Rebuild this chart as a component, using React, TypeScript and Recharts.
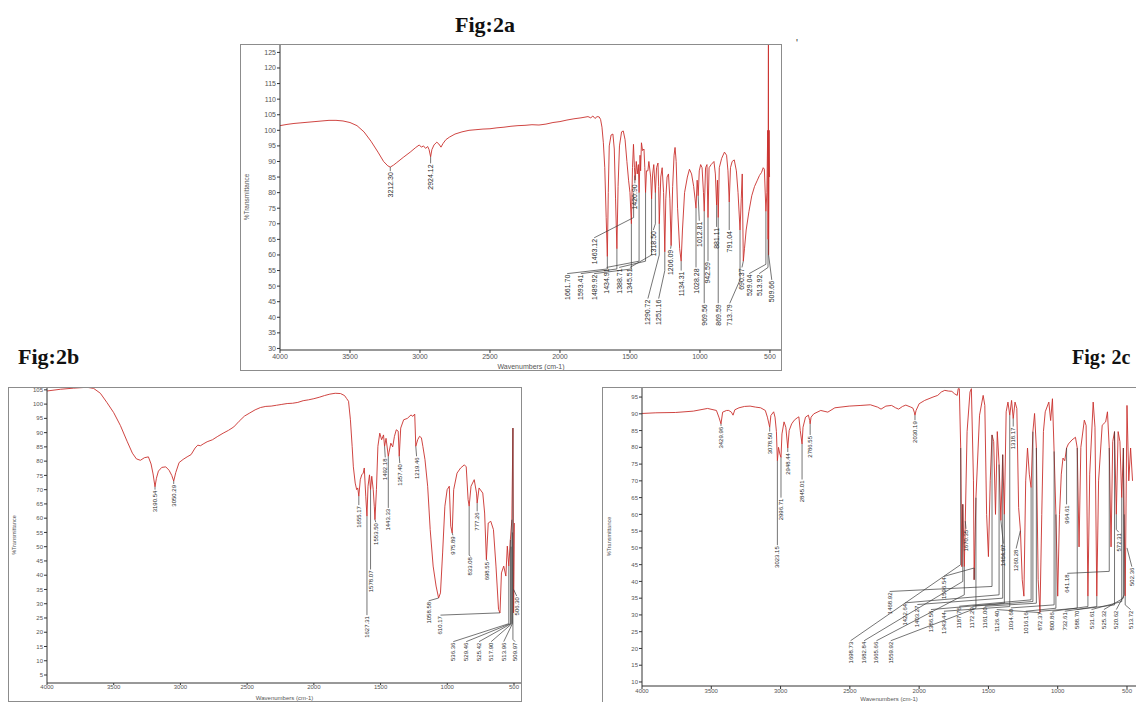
import React from "react";
import { LineChart, Line, XAxis, YAxis, ReferenceLine, ReferenceDot } from "recharts";

type Pt = [number, number];
// label text + leader polyline (label sits under the last point)
type Peak = [string, Pt[]];

const xTicks = [4000, 3500, 3000, 2500, 2000, 1500, 1000, 500];

// ---------- Fig 2a ----------
const specA: Pt[] = [
  [4000, 101.5], [3950, 101.9], [3900, 102.2], [3850, 102.4], [3800, 102.6], [3750, 102.8], [3700, 103],
  [3650, 103.2], [3600, 103.2], [3550, 103], [3500, 102.5], [3450, 101.5], [3400, 99.5], [3350, 96.5],
  [3300, 93], [3260, 90], [3230, 88.6], [3212.3, 88.2], [3190, 88.8], [3170, 89.5], [3120, 91.3],
  [3070, 93], [3030, 94.5], [3005, 95.3], [2990, 94.6], [2975, 95], [2960, 94.2], [2945, 94.8],
  [2935, 93.8], [2924.1, 91.5], [2915, 93.8], [2900, 95.3], [2880, 96.2], [2865, 95.6], [2850, 94.6],
  [2835, 95.8], [2815, 97], [2790, 97.8], [2750, 98.8], [2700, 99.5], [2650, 100], [2600, 100.2],
  [2550, 100.4], [2500, 100.5], [2450, 100.8], [2400, 101], [2350, 101.3], [2300, 101.5], [2250, 101.6],
  [2200, 101.8], [2150, 101.7], [2100, 102], [2050, 102.5], [2000, 102.8], [1950, 103.3], [1900, 103.7],
  [1850, 104], [1800, 104.4], [1780, 104], [1765, 104.6], [1750, 103.8], [1735, 104.4], [1720, 104.3],
  [1710, 103.5], [1700, 101], [1690, 96], [1680, 88], [1670, 72], [1661.7, 59.5], [1655, 80],
  [1648, 95], [1635, 98.5], [1622, 98.8], [1612, 94], [1603, 78], [1593.4, 62], [1585, 82], [1575, 95],
  [1560, 99.5], [1548, 99.8], [1535, 97], [1522, 90], [1510, 84], [1500, 80], [1489.9, 70], [1482, 88],
  [1475, 95.5], [1468, 88], [1463.1, 84], [1455, 90], [1448, 86], [1440, 89], [1434.9, 80], [1428, 92],
  [1424, 87], [1418, 96], [1410, 93.5], [1400, 94], [1394, 88], [1388.7, 80], [1382, 87], [1372, 87],
  [1365, 90], [1352, 85], [1345.5, 78], [1338, 86], [1330, 89], [1318.5, 80], [1310, 88], [1300, 89.5],
  [1295, 82], [1290.7, 70], [1280, 85], [1270, 88], [1260, 80], [1251.2, 61], [1244, 78], [1235, 85],
  [1225, 86], [1215, 78], [1206.1, 63], [1195, 82], [1185, 92], [1178, 94.5], [1170, 90], [1160, 75],
  [1145, 62], [1134.3, 58], [1125, 68], [1110, 80], [1090, 85], [1075, 87.5], [1060, 86], [1045, 82],
  [1035, 78], [1028.3, 75], [1020, 84], [1012.8, 79], [1005, 87], [995, 89], [985, 88], [975, 80],
  [969.6, 74], [960, 88], [950, 89], [942.6, 72], [935, 88], [920, 89], [900, 90], [890, 86],
  [881.1, 76], [875, 84], [869.6, 72], [862, 88], [845, 91], [825, 93], [810, 92], [800, 87], [791, 77],
  [782, 88], [770, 90], [755, 90.5], [740, 87], [728, 80], [713.8, 68], [705, 78], [698, 86],
  [690.4, 58], [682, 62], [670, 68], [650, 74], [630, 79], [610, 82], [590, 84], [575, 85.5],
  [560, 86.5], [548, 88], [540, 87.5], [529, 74], [522, 80], [516, 100], [513.9, 65], [511, 130],
  [509.7, 60], [506, 100], [503, 85],
];
const peaksA: Peak[] = [
  ["3212.30", [[3212.3, 88.2], [3212.3, 86.9]]],
  ["2924.12", [[2924.1, 91.5], [2924.1, 89.4]]],
  ["1661.70", [[1661.7, 59.5], [1661.7, 55.5], [1949, 54]]],
  ["1593.41", [[1593.4, 62], [1593.4, 55.5], [1851, 54]]],
  ["1489.92", [[1489.9, 70], [1489.9, 55.5], [1756, 54]]],
  ["1434.91", [[1434.9, 80], [1434.9, 58], [1667, 56]]],
  ["1388.71", [[1388.7, 80], [1388.7, 58], [1577, 56]]],
  ["1345.51", [[1345.5, 78], [1345.5, 60], [1500, 56]]],
  ["1463.12", [[1474, 80], [1474, 72], [1756, 65.5]]],
  ["1420.90", [[1465, 85.5], [1465, 83]]],
  ["1318.50", [[1318.5, 80], [1318.5, 70], [1333, 68]]],
  ["1290.72", [[1290.7, 70], [1290.7, 60], [1372, 46]]],
  ["1251.16", [[1251.2, 61], [1251.2, 55], [1295, 46]]],
  ["1206.09", [[1206.1, 63], [1210, 62]]],
  ["1134.31", [[1134.3, 58], [1134.3, 55]]],
  ["1028.28", [[1028.3, 75], [1028.3, 56]]],
  ["1012.81", [[1012.8, 79], [1005, 71]]],
  ["969.56", [[969.6, 74], [969.6, 44.5]]],
  ["942.59", [[942.6, 72], [942.6, 58]]],
  ["881.11", [[881.1, 76], [881.1, 69]]],
  ["869.59", [[869.6, 72], [869.6, 44.5]]],
  ["791.04", [[791, 77], [791, 68]]],
  ["713.79", [[713.8, 68], [713.8, 52], [787, 44.5]]],
  ["690.37", [[690.4, 58], [700, 56]]],
  ["529.04", [[529, 74], [529, 57], [649, 54]]],
  ["513.92", [[513.9, 65], [513.9, 56], [577, 54]]],
  ["509.66", [[509.7, 60], [487, 52]]],
];
const yTicksA = [30, 35, 40, 45, 50, 55, 60, 65, 70, 75, 80, 85, 90, 95, 100, 105, 110, 115, 120, 125];

// ---------- Fig 2b ----------
const specB: Pt[] = [
  [4000, 104.6], [3900, 105.2], [3800, 105.6], [3700, 105.9], [3650, 105.5], [3600, 103.8], [3550, 100.5],
  [3500, 97], [3450, 92.5], [3400, 87], [3360, 82.8], [3330, 80.8], [3300, 80.3], [3270, 81.2],
  [3240, 81.5], [3220, 79], [3205, 75.5], [3190.5, 71], [3180, 74], [3165, 76.5], [3140, 77.8],
  [3110, 78], [3085, 76.8], [3065, 75], [3050.3, 73], [3035, 76], [3010, 79.5], [2980, 80.6],
  [2950, 81.5], [2920, 82.3], [2890, 84.6], [2870, 85.6], [2850, 85.4], [2830, 86], [2800, 86.8],
  [2760, 87.5], [2720, 88.7], [2680, 89.8], [2640, 90.8], [2600, 92], [2560, 94], [2520, 95.8],
  [2480, 96.9], [2440, 98], [2400, 98.8], [2360, 99.2], [2320, 99.3], [2280, 99.6], [2240, 99.9],
  [2200, 100.2], [2160, 100.3], [2120, 100.6], [2080, 101.2], [2040, 101.5], [2000, 101.9],
  [1960, 102.4], [1920, 103], [1880, 103.5], [1840, 103.8], [1800, 103.7], [1770, 103], [1755, 102],
  [1740, 101], [1726, 94.5], [1713, 85.2], [1704, 78], [1690, 72.3], [1679, 70], [1671, 70.6],
  [1663, 67.7], [1652, 73.5], [1641, 75.2], [1630, 75.8], [1622, 77.6], [1611, 67.7], [1602, 60.7],
  [1594, 71.2], [1583, 75.2], [1575, 70], [1566, 74.7], [1555, 70], [1547, 64.2], [1542, 59.5],
  [1531, 70], [1520, 85.2], [1506, 89.8], [1492, 87.5], [1478, 89.2], [1470, 85.2], [1459, 88],
  [1442, 81.7], [1437, 83], [1423, 86.3], [1409, 85], [1396, 88.7], [1382, 91], [1368, 90.5],
  [1360, 81.7], [1349, 91.6], [1327, 94.5], [1299, 95], [1272, 96.2], [1258, 95.7], [1244, 96.5],
  [1236, 85.2], [1222, 87.5], [1208, 88.7], [1194, 88.2], [1183, 85.2], [1167, 80.5], [1147, 71.2],
  [1128, 56], [1106, 43.2], [1084, 36.2], [1065, 32], [1051, 33.8], [1035, 47.8], [1018, 64.2],
  [1001, 70], [985, 71.2], [974, 57.2], [963, 54.8], [952, 70], [927, 75.8], [900, 77.6], [872, 78.7],
  [858, 78], [844, 66.5], [836, 64.2], [822, 71.2], [798, 73.5], [781, 68.8], [776, 65.3], [762, 70.6],
  [734, 68.8], [720, 61.8], [707, 45.5], [693, 58.3], [674, 58.9], [654, 56], [635, 43.2], [616, 28],
  [605, 26.8], [594, 40.8], [577, 43.2], [561, 39.7], [550, 50.2], [539, 43.2], [527, 52.5],
  [516, 59.5], [508, 91.6], [503, 26.8], [497, 58.3],
];
const peaksB: Peak[] = [
  ["3190.54", [[3190.5, 71], [3190.5, 70]]],
  ["3050.29", [[3050.3, 73], [3050.3, 72]]],
  ["1655.17", [[1663, 67.7], [1663, 64.6]]],
  ["1627.31", [[1602, 60.7], [1602, 26]]],
  ["1578.07", [[1575, 70], [1575, 42]]],
  ["1553.50", [[1542, 59.5], [1536, 58.6]]],
  ["1492.18", [[1470, 85.2], [1465, 81.3]]],
  ["1443.33", [[1442, 81.7], [1442, 63.6]]],
  ["1357.40", [[1360, 81.7], [1356, 79.3]]],
  ["1219.46", [[1236, 85.2], [1230, 81.7]]],
  ["1058.58", [[1065, 32], [1140, 31]]],
  ["610.17", [[605, 26.8], [1051, 26]]],
  ["975.89", [[963, 54.8], [958, 54]]],
  ["833.08", [[836, 64.2], [836, 47], [826, 46.7]]],
  ["777.26", [[776, 65.3], [776, 62.4]]],
  ["698.55", [[707, 45.5], [700, 45]]],
  ["536.36", [[539, 43.2], [539, 23], [955, 16.7]]],
  ["529.46", [[527, 52.5], [527, 23], [858, 16.7]]],
  ["525.42", [[522, 50], [522, 23], [762, 16.7]]],
  ["517.90", [[516, 59.5], [516, 23], [671, 16.7]]],
  ["513.96", [[512, 55], [512, 23], [577, 16.7]]],
  ["509.97", [[508, 91.6], [508, 17.5], [492, 16.7]]],
  ["506.30", [[503, 35], [480, 32.7]]],
];
const yTicksB = [5, 10, 15, 20, 25, 30, 35, 40, 45, 50, 55, 60, 65, 70, 75, 80, 85, 90, 95, 100, 105];

// ---------- Fig 2c ----------
const specC: Pt[] = [
  [4000, 90.1], [3900, 90.3], [3757, 90.4], [3630, 90.8], [3527, 91.6], [3463, 91], [3445, 89],
  [3430, 87], [3418, 90.5], [3390, 91], [3374, 91], [3355, 90.5], [3343, 89.6], [3330, 91.2],
  [3300, 91.8], [3260, 92.2], [3220, 92.3], [3180, 92], [3144, 91.8], [3110, 91], [3095, 89],
  [3078.5, 86], [3070, 89.5], [3050, 90.6], [3040, 89], [3030, 84.7], [3023, 76], [3015, 80],
  [3005, 78], [2997, 77], [2990, 84], [2975, 87.6], [2962, 86], [2948, 79.8], [2938, 85], [2920, 87],
  [2901, 88.1], [2880, 88.8], [2868, 89.1], [2858, 85], [2845, 81], [2838, 86], [2820, 89],
  [2799, 89.6], [2790, 88], [2786.5, 87], [2780, 89], [2760, 90], [2710, 91], [2659, 90.5],
  [2608, 91.8], [2505, 92.3], [2420, 92.5], [2352, 92.7], [2300, 92], [2275, 91.4], [2240, 92.3],
  [2199, 92.5], [2170, 91.8], [2148, 91.4], [2120, 92.2], [2096, 92.6], [2060, 92], [2045, 91.7],
  [2035, 90.5], [2030, 89.6], [2022, 91], [2000, 93], [1960, 94], [1900, 95], [1866, 95.5],
  [1840, 96.5], [1815, 97], [1790, 96.8], [1764, 96.7], [1745, 96], [1725, 95.5], [1718, 97.5],
  [1710, 97.5], [1700, 79.8], [1692, 44.4], [1685, 63], [1674, 44.4], [1667, 58], [1654, 84.7],
  [1633, 96.5], [1623, 97.5], [1608, 70], [1603, 40.5], [1590, 65], [1564, 89.6], [1538, 95.5],
  [1526, 92.5], [1513, 60], [1500, 47.4], [1487, 70], [1474, 83.7], [1462, 81.7], [1449, 60],
  [1436, 84.7], [1423, 74.9], [1410, 58.2], [1397, 77.8], [1385, 60], [1372, 90.6], [1359, 93.5],
  [1346, 89.6], [1333, 94], [1321, 88.6], [1308, 93.5], [1295, 91.6], [1282, 62], [1269, 55.2],
  [1256, 40.5], [1244, 35.6], [1231, 70], [1218, 79.8], [1205, 72], [1192, 68], [1179, 84.7],
  [1167, 90.1], [1154, 79.8], [1141, 40.5], [1128, 30.7], [1115, 60], [1103, 84.7], [1090, 90.6],
  [1064, 93.5], [1051, 88], [1038, 94.5], [1026, 78.8], [1013, 60], [1000, 35.6], [987, 60],
  [974, 72], [962, 76.8], [949, 76], [936, 79.8], [923, 81], [897, 82.2], [872, 83], [859, 79.8],
  [846, 50.3], [833, 80], [808, 88.1], [795, 86.5], [782, 35.6], [769, 72], [744, 93.5], [731, 86],
  [718, 35.6], [705, 70], [679, 86.6], [654, 87.6], [641, 90.6], [628, 79.8], [615, 50.3],
  [603, 81.7], [590, 84.7], [577, 60], [564, 84.7], [551, 81.7], [538, 65], [526, 79.8], [513, 35.6],
  [500, 92.5], [487, 70], [474, 79.8], [460, 70],
];
const peaksC: Peak[] = [
  ["3429.96", [[3430, 87], [3430, 86.4]]],
  ["3078.50", [[3078.5, 86], [3078.5, 84.7]]],
  ["3023.15", [[3023, 76], [3023, 50.8]]],
  ["2996.71", [[2997, 77], [2997, 65]]],
  ["2948.44", [[2948, 79.8], [2948, 78.6]]],
  ["2845.01", [[2845, 81], [2845, 70.4]]],
  ["2786.55", [[2786.5, 87], [2786.5, 83.7]]],
  ["2030.19", [[2030, 89.6], [2030, 88.1]]],
  ["1318.17", [[1321, 88.6], [1321, 86.2]]],
  ["1670.35", [[1667, 58], [1662, 55.7]]],
  ["1464.97", [[1410, 58.2], [1392, 51.3]]],
  ["1260.28", [[1269, 55.2], [1300, 49.8]]],
  ["964.61", [[936, 79.8], [936, 63]]],
  ["572.31", [[577, 60], [577, 55.5], [560, 54.7]]],
  ["502.36", [[500, 50], [465, 44.4]]],
  ["641.18", [[628, 79.8], [628, 43], [931, 42.4]]],
  ["1596.54", [[1603, 40.5], [1603, 44], [1821, 41.5]]],
  ["1468.92", [[1474, 83.7], [1474, 38.5], [2213, 37]]],
  ["1422.64", [[1423, 74.9], [1423, 36], [2103, 33.6]]],
  ["1403.27", [[1397, 77.8], [1397, 35], [2013, 33.1]]],
  ["1386.56", [[1385, 60], [1385, 33.5], [1915, 31.6]]],
  ["1343.44", [[1346, 89.6], [1346, 32.5], [1821, 31.1]]],
  ["1698.73", [[1700, 79.8], [1700, 45], [2495, 22.3]]],
  ["1682.84", [[1685, 63], [1685, 40], [2397, 22.3]]],
  ["1665.66", [[1674, 44.4], [1674, 36], [2308, 22.3]]],
  ["1559.92", [[1590, 65], [1590, 32], [2205, 22.3]]],
  ["1187.76", [[1192, 68], [1192, 34.5], [1710, 32.6]]],
  ["1172.29", [[1179, 84.7], [1179, 34], [1615, 32.6]]],
  ["1161.00", [[1154, 79.8], [1154, 33.5], [1526, 32.6]]],
  ["1126.40", [[1128, 30.7], [1440, 31.6]]],
  ["1034.60", [[1026, 78.8], [1026, 33], [1338, 32.1]]],
  ["1016.16", [[1013, 60], [1013, 32], [1231, 31.1]]],
  ["872.37", [[859, 79.8], [859, 32], [1128, 31.1]]],
  ["800.86", [[782, 35.6], [782, 32.5], [1038, 31.1]]],
  ["732.61", [[718, 35.6], [718, 32.5], [949, 31.1]]],
  ["588.70", [[590, 84.7], [590, 33], [859, 31.6]]],
  ["531.61", [[538, 65], [538, 34], [756, 31.6]]],
  ["525.32", [[526, 79.8], [526, 35], [667, 31.6]]],
  ["520.62", [[520, 60], [520, 36], [577, 31.6]]],
  ["513.72", [[513, 35.6], [513, 33], [474, 31.6]]],
];
const yTicksC = [10, 15, 20, 25, 30, 35, 40, 45, 50, 55, 60, 65, 70, 75, 80, 85, 90, 95];

const steps = (a: number, b: number, s: number) => {
  const out: number[] = [];
  for (let v = a; v <= b; v += s) out.push(v);
  return out;
};

interface PanelProps {
  left: number;
  top: number;
  width: number;
  height: number;
  yWidth: number;
  xHeight: number;
  xDomain: [number, number];
  yDomain: [number, number];
  yTicks: number[];
  data: Pt[];
  peaks: Peak[];
  fs: number;
  xTickSize: number;
  xTickMargin: number;
  xLabelOffset: number;
  yLabelOffset: number;
}

function Panel(p: PanelProps) {
  const rows = p.data.map(([wn, t]) => ({ wn, t }));
  const minorX = steps(500, 4000, 100);
  const minorY = steps(Math.ceil(p.yDomain[0]), Math.floor(p.yDomain[1]), 1);
  const tickStyle = { fontSize: p.fs, fill: "#555", fontFamily: "Arial" };
  const noTick = () => <g />;

  return (
    <div style={{ position: "absolute", left: p.left, top: p.top }}>
      <LineChart
        width={p.width}
        height={p.height}
        data={rows}
        margin={{ top: 0, right: 0, bottom: 0, left: 0 }}
      >
        <XAxis
          xAxisId="minor"
          type="number"
          dataKey="wn"
          domain={p.xDomain}
          reversed
          allowDataOverflow
          ticks={minorX}
          interval={0}
          height={0}
          tickSize={2}
          axisLine={false}
          tickLine={{ stroke: "#444" }}
          tick={noTick}
        />
        <XAxis
          type="number"
          dataKey="wn"
          domain={p.xDomain}
          reversed
          allowDataOverflow
          ticks={xTicks}
          interval={0}
          height={p.xHeight}
          tickSize={p.xTickSize}
          tickMargin={p.xTickMargin}
          stroke="#333"
          tick={tickStyle}
          label={{
            value: "Wavenumbers (cm-1)",
            position: "insideBottom",
            offset: p.xLabelOffset,
            fontSize: p.fs,
            fill: "#555",
            fontFamily: "Arial",
          }}
        />
        <YAxis
          yAxisId="minor"
          type="number"
          domain={p.yDomain}
          allowDataOverflow
          ticks={minorY}
          interval={0}
          width={0}
          tickSize={2}
          axisLine={false}
          tickLine={{ stroke: "#444" }}
          tick={noTick}
        />
        <YAxis
          type="number"
          domain={p.yDomain}
          allowDataOverflow
          ticks={p.yTicks}
          interval={0}
          width={p.yWidth}
          tickSize={3}
          tickMargin={1}
          stroke="#333"
          tick={tickStyle}
          label={{
            value: "%Transmittance",
            angle: -90,
            position: "insideLeft",
            offset: p.yLabelOffset,
            fontSize: p.fs - 0.5,
            fill: "#555",
            fontFamily: "Arial",
            style: { textAnchor: "middle" },
          }}
        />
        <Line
          type="linear"
          dataKey="t"
          stroke="#c9302c"
          strokeWidth={0.9}
          dot={false}
          activeDot={false}
          isAnimationActive={false}
        />
        {p.peaks.flatMap(([text, pts], i) =>
          pts.slice(1).map((pt, j) => (
            <ReferenceLine
              key={`l-${text}-${i}-${j}`}
              segment={[
                { x: pts[j][0], y: pts[j][1] },
                { x: pt[0], y: pt[1] },
              ]}
              stroke="#3a3a3a"
              strokeWidth={0.7}
              ifOverflow="visible"
            />
          ))
        )}
        {p.peaks.map(([text, pts], i) => {
          const end = pts[pts.length - 1];
          return (
            <ReferenceDot
              key={`t-${text}-${i}`}
              x={end[0]}
              y={end[1]}
              r={0}
              ifOverflow="visible"
              shape={(d: any) => (
                <text
                  x={d.cx - 1}
                  y={d.cy}
                  transform={`rotate(-90 ${d.cx} ${d.cy})`}
                  textAnchor="end"
                  dominantBaseline="central"
                  fontSize={p.fs}
                  fontFamily="Arial"
                  fill="#2a2a2a"
                >
                  {text}
                </text>
              )}
            />
          );
        })}
      </LineChart>
    </div>
  );
}

const frame = (left: number, top: number, width: number, height: number, extra = {}) => (
  <div
    style={{
      position: "absolute",
      left,
      top,
      width,
      height,
      boxSizing: "border-box",
      border: "1px solid #8c8c8c",
      pointerEvents: "none",
      ...extra,
    }}
  />
);

const titleStyle = (left: number, top: number, size: number): React.CSSProperties => ({
  position: "absolute",
  left,
  top,
  fontFamily: '"Liberation Serif", "Times New Roman", serif',
  fontWeight: "bold",
  fontSize: size,
  lineHeight: `${size}px`,
  color: "#111",
  whiteSpace: "nowrap",
});

export default function App() {
  return (
    <div
      style={{
        position: "absolute",
        left: 0,
        top: 0,
        width: 1136,
        height: 702,
        overflow: "hidden",
        background: "#fff",
      }}
    >
      <div style={titleStyle(455, 14, 22)}>Fig:2a</div>
      <div style={titleStyle(18, 346, 22)}>Fig:2b</div>
      <div style={titleStyle(1072, 347, 20)}>Fig: 2c</div>
      <div style={{ position: "absolute", left: 796, top: 38, fontSize: 10, fontFamily: "Arial", color: "#333" }}>'</div>

      <Panel
        left={240}
        top={44}
        width={542}
        height={327}
        yWidth={40}
        xHeight={21}
        xDomain={[414, 4000]}
        yDomain={[29.5, 127.7]}
        yTicks={yTicksA}
        data={specA}
        peaks={peaksA}
        fs={7}
        xTickSize={3}
        xTickMargin={1}
        xLabelOffset={2}
        yLabelOffset={7}
      />
      {frame(240, 44, 542, 327)}

      <Panel
        left={8}
        top={387}
        width={514}
        height={314}
        yWidth={39}
        xHeight={18}
        xDomain={[440, 4000]}
        yDomain={[2.2, 106]}
        yTicks={yTicksB}
        data={specB}
        peaks={peaksB}
        fs={6}
        xTickSize={2}
        xTickMargin={0}
        xLabelOffset={1}
        yLabelOffset={6}
      />
      {frame(8, 387, 514, 315)}

      <Panel
        left={602}
        top={387}
        width={534}
        height={315}
        yWidth={40}
        xHeight={16}
        xDomain={[435, 4000]}
        yDomain={[8.8, 98]}
        yTicks={yTicksC}
        data={specC}
        peaks={peaksC}
        fs={6}
        xTickSize={3}
        xTickMargin={0}
        xLabelOffset={1}
        yLabelOffset={7}
      />
      {frame(602, 387, 600, 330, { borderRight: "none" })}
    </div>
  );
}
